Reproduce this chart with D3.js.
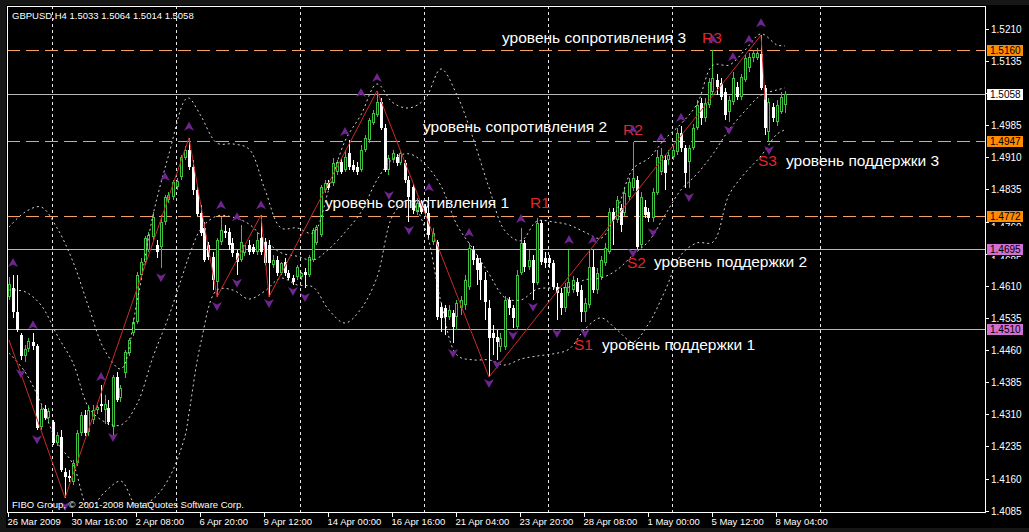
<!DOCTYPE html>
<html><head><meta charset="utf-8">
<script src="https://cdn.jsdelivr.net/npm/d3@7"></script>
<style>html,body{margin:0;padding:0;background:#000;}svg{display:block;}</style>
</head><body>
<svg id="c" width="1029" height="532"></svg>
<script>
const symbolTitle = "GBPUSD,H4  1.5033 1.5064 1.5014 1.5058";
const copyrightText = "FIBO Group, © 2001-2008 MetaQuotes Software Corp.";

const opens = [
1.4584,1.4605,1.4549,1.4495,1.4446,1.4462,1.4479,1.4469,1.4280,1.4323,
1.4301,1.4292,1.4243,1.4257,1.4175,1.4166,1.4152,1.4197,1.4266,1.4308,
1.4269,1.4297,1.4320,1.4334,1.4320,1.4325,1.4280,1.4397,1.4348,1.4406,
1.4453,1.4500,1.4526,1.4635,1.4666,1.4694,1.4724,1.4705,1.4700,1.4759,
1.4810,1.4817,1.4841,1.4864,1.4908,1.4927,1.4887,1.4834,1.4780,1.4745,
1.4705,1.4677,1.4619,1.4712,1.4738,1.4735,1.4710,1.4687,1.4670,1.4687,
1.4705,1.4700,1.4689,1.4721,1.4712,1.4705,1.4659,1.4670,1.4640,1.4666,
1.4640,1.4628,1.4630,1.4630,1.4642,1.4635,1.4670,1.4710,1.4728,1.4834,
1.4850,1.4850,1.4876,1.4899,1.4880,1.4920,1.4892,1.4887,1.4880,1.4927,
1.4950,1.4990,1.5009,1.5039,1.4978,1.4880,1.4904,1.4911,1.4897,1.4897,
1.4857,1.4841,1.4782,1.4803,1.4794,1.4780,1.4712,1.4712,1.4561,1.4558,
1.4537,1.4546,1.4537,1.4558,1.4565,1.4607,1.4694,1.4675,1.4663,1.4624,
1.4558,1.4500,1.4490,1.4467,1.4467,1.4577,1.4558,1.4514,1.4640,1.4710,
1.4654,1.4670,1.4617,1.4757,1.4675,1.4675,1.4663,1.4607,1.4593,1.4558,
1.4593,1.4600,1.4619,1.4600,1.4549,1.4565,1.4654,1.4600,1.4630,1.4663,
1.4689,1.4782,1.4764,1.4791,1.4780,1.4817,1.4839,1.4857,1.4705,1.4794,
1.4782,1.4768,1.4827,1.4876,1.4904,1.4904,1.4911,1.4922,1.4967,1.4932,
1.4899,1.4932,1.4978,1.5037,1.5002,1.5032,1.5062,1.5090,1.5083,1.5062,
1.5016,1.5039,1.5074,1.5051,1.5090,1.5118,1.5142,1.5142,1.5151,1.5072,
1.4969,1.5027,1.4992,1.5016,1.5033];

const highs = [
1.4630,1.4635,1.4635,1.4500,1.4472,1.4488,1.4500,1.4474,1.4332,1.4332,
1.4325,1.4297,1.4269,1.4273,1.4185,1.4180,1.4204,1.4273,1.4315,1.4320,
1.4332,1.4332,1.4332,1.4379,1.4355,1.4343,1.4402,1.4409,1.4379,1.4460,
1.4488,1.4535,1.4642,1.4675,1.4726,1.4735,1.4782,1.4717,1.4775,1.4822,
1.4829,1.4857,1.4862,1.4915,1.4936,1.4955,1.4904,1.4843,1.4798,1.4759,
1.4712,1.4689,1.4721,1.4770,1.4752,1.4745,1.4721,1.4694,1.4752,1.4705,
1.4717,1.4708,1.4735,1.4775,1.4721,1.4717,1.4682,1.4679,1.4666,1.4675,
1.4647,1.4635,1.4659,1.4642,1.4652,1.4682,1.4745,1.4752,1.4846,1.4857,
1.4857,1.4908,1.4904,1.4908,1.4927,1.4950,1.4904,1.4899,1.4939,1.4962,
1.5002,1.5020,1.5065,1.5048,1.4988,1.4915,1.4927,1.4918,1.4927,1.4904,
1.4866,1.4848,1.4815,1.4810,1.4801,1.4817,1.4745,1.4717,1.4570,1.4565,
1.4565,1.4553,1.4577,1.4586,1.4635,1.4710,1.4703,1.4682,1.4675,1.4642,
1.4577,1.4518,1.4507,1.4500,1.4586,1.4584,1.4565,1.4647,1.4745,1.4717,
1.4694,1.4682,1.4768,1.4764,1.4689,1.4682,1.4670,1.4617,1.4605,1.4617,
1.4694,1.4633,1.4628,1.4612,1.4582,1.4694,1.4694,1.4652,1.4679,1.4710,
1.4791,1.4791,1.4820,1.4801,1.4839,1.4862,1.4946,1.4866,1.4829,1.4810,
1.4791,1.4839,1.4927,1.4932,1.4915,1.4927,1.4936,1.4978,1.4983,1.4939,
1.4939,1.4988,1.5044,1.5048,1.5048,1.5095,1.5160,1.5104,1.5095,1.5072,
1.5053,1.5109,1.5086,1.5104,1.5151,1.5153,1.5160,1.5165,1.5195,1.5079,
1.5048,1.5037,1.5044,1.5062,1.5064];

const lows = [
1.4577,1.4535,1.4502,1.4437,1.4432,1.4455,1.4460,1.4273,1.4273,1.4297,
1.4292,1.4238,1.4236,1.4175,1.4115,1.4152,1.4145,1.4189,1.4259,1.4259,
1.4259,1.4287,1.4311,1.4315,1.4287,1.4285,1.4250,1.4339,1.4339,1.4395,
1.4446,1.4493,1.4521,1.4628,1.4659,1.4689,1.4717,1.4675,1.4652,1.4752,
1.4803,1.4810,1.4834,1.4857,1.4904,1.4880,1.4822,1.4773,1.4726,1.4666,
1.4670,1.4600,1.4584,1.4705,1.4721,1.4694,1.4677,1.4635,1.4666,1.4679,
1.4682,1.4684,1.4682,1.4682,1.4659,1.4584,1.4652,1.4633,1.4635,1.4633,
1.4624,1.4612,1.4624,1.4624,1.4605,1.4630,1.4666,1.4705,1.4724,1.4827,
1.4834,1.4843,1.4869,1.4871,1.4876,1.4880,1.4876,1.4869,1.4876,1.4922,
1.4943,1.4985,1.5004,1.4974,1.4876,1.4869,1.4897,1.4890,1.4892,1.4850,
1.4759,1.4777,1.4775,1.4777,1.4773,1.4721,1.4705,1.4530,1.4502,1.4495,
1.4530,1.4476,1.4507,1.4542,1.4553,1.4600,1.4659,1.4612,1.4577,1.4530,
1.4397,1.4448,1.4437,1.4455,1.4460,1.4542,1.4511,1.4507,1.4635,1.4642,
1.4647,1.4577,1.4612,1.4659,1.4652,1.4652,1.4600,1.4530,1.4542,1.4549,
1.4586,1.4593,1.4586,1.4526,1.4526,1.4558,1.4593,1.4591,1.4624,1.4656,
1.4684,1.4705,1.4757,1.4735,1.4773,1.4810,1.4832,1.4694,1.4698,1.4768,
1.4759,1.4759,1.4822,1.4869,1.4834,1.4892,1.4904,1.4915,1.4922,1.4839,
1.4839,1.4927,1.4974,1.4985,1.4992,1.5025,1.5055,1.5055,1.5044,1.4997,
1.4992,1.5032,1.5044,1.5044,1.5086,1.5109,1.5132,1.5137,1.5067,1.4962,
1.4946,1.4992,1.4983,1.5011,1.5014];

const closes = [
1.4614,1.4549,1.4507,1.4446,1.4462,1.4481,1.4469,1.4278,1.4323,1.4301,
1.4318,1.4243,1.4262,1.4180,1.4164,1.4161,1.4197,1.4266,1.4308,1.4266,
1.4320,1.4320,1.4327,1.4329,1.4334,1.4292,1.4397,1.4343,1.4371,1.4455,
1.4483,1.4526,1.4635,1.4666,1.4721,1.4728,1.4770,1.4689,1.4759,1.4817,
1.4822,1.4853,1.4855,1.4911,1.4927,1.4887,1.4834,1.4777,1.4733,1.4670,
1.4677,1.4624,1.4717,1.4740,1.4733,1.4705,1.4687,1.4666,1.4712,1.4705,
1.4689,1.4689,1.4717,1.4689,1.4663,1.4663,1.4670,1.4640,1.4663,1.4640,
1.4628,1.4619,1.4654,1.4640,1.4635,1.4677,1.4740,1.4747,1.4841,1.4850,
1.4839,1.4897,1.4899,1.4876,1.4911,1.4887,1.4880,1.4876,1.4927,1.4955,
1.4997,1.5013,1.5039,1.4978,1.4880,1.4908,1.4920,1.4897,1.4920,1.4857,
1.4817,1.4787,1.4803,1.4782,1.4780,1.4728,1.4733,1.4537,1.4535,1.4537,
1.4553,1.4514,1.4570,1.4577,1.4624,1.4698,1.4670,1.4647,1.4624,1.4572,
1.4488,1.4488,1.4479,1.4488,1.4577,1.4558,1.4535,1.4635,1.4710,1.4654,
1.4670,1.4617,1.4757,1.4666,1.4663,1.4663,1.4607,1.4593,1.4558,1.4607,
1.4619,1.4624,1.4596,1.4549,1.4570,1.4654,1.4600,1.4640,1.4670,1.4698,
1.4782,1.4764,1.4810,1.4752,1.4827,1.4853,1.4862,1.4700,1.4817,1.4775,
1.4768,1.4829,1.4911,1.4915,1.4873,1.4915,1.4927,1.4967,1.4932,1.4873,
1.4932,1.4978,1.5032,1.5002,1.5037,1.5086,1.5095,1.5074,1.5051,1.5009,
1.5044,1.5095,1.5051,1.5097,1.5142,1.5144,1.5153,1.5153,1.5072,1.4978,
1.5039,1.5002,1.5032,1.5051,1.5058];

const timeTickBars = [0,16,32,48,64,80,96,112,128,144,160,176,192];
const timeTickLabels = ["26 Mar 2009","30 Mar 16:00","2 Apr 08:00","6 Apr 20:00","9 Apr 12:00","14 Apr 00:00","16 Apr 16:00","21 Apr 04:00","23 Apr 20:00","28 Apr 08:00","1 May 00:00","5 May 12:00","8 May 04:00"];
const gridBars = [10.75,41.75,72.75,103.75,134.75,165.75,202.75];
const priceTicks = [1.5210,1.5135,1.5060,1.4985,1.4910,1.4835,1.4760,1.4685,1.4610,1.4535,1.4460,1.4385,1.4310,1.4235,1.4160,1.4085];

const bandBars = [0,4,8,12,16,20,24,28,32,36,40,44,45,48,52,56,60,64,68,72,76,80,84,88,92,96,100,104,108,112,116,120,124,128,132,136,140,144,148,152,156,160,164,168,172,176,180,184,188,192,194];
const bandUpper = [1.4747,1.4782,1.4794,1.4745,1.4666,1.4558,1.4458,1.4416,1.4572,1.4775,1.4918,1.5044,1.5048,1.5006,1.4943,1.4941,1.4929,1.4834,1.4745,1.4745,1.4733,1.4836,1.4948,1.5009,1.5081,1.5037,1.5025,1.5046,1.5116,1.5055,1.4955,1.4839,1.4738,1.4715,1.4761,1.4759,1.4752,1.4735,1.4721,1.4787,1.4883,1.4908,1.4953,1.4988,1.5034,1.5125,1.5125,1.5160,1.5198,1.5172,1.5170];
const bandMiddle = [1.4600,1.4596,1.4565,1.4495,1.4430,1.4325,1.4292,1.4285,1.4334,1.4444,1.4540,1.4652,1.4679,1.4743,1.4773,1.4770,1.4754,1.4717,1.4687,1.4679,1.4670,1.4696,1.4735,1.4782,1.4857,1.4906,1.4918,1.4894,1.4843,1.4752,1.4696,1.4638,1.4582,1.4577,1.4602,1.4605,1.4607,1.4624,1.4628,1.4647,1.4682,1.4715,1.4775,1.4834,1.4871,1.4918,1.4974,1.5018,1.5055,1.5067,1.5072];
const bandLower = [1.4453,1.4409,1.4336,1.4245,1.4194,1.4091,1.4129,1.4154,1.4096,1.4112,1.4161,1.4259,1.4313,1.4479,1.4600,1.4600,1.4579,1.4598,1.4628,1.4612,1.4607,1.4553,1.4523,1.4556,1.4630,1.4775,1.4810,1.4745,1.4572,1.4448,1.4437,1.4437,1.4425,1.4439,1.4446,1.4451,1.4462,1.4509,1.4535,1.4507,1.4479,1.4523,1.4598,1.4682,1.4710,1.4712,1.4822,1.4873,1.4913,1.4964,1.4974];

const zigzagBars = [0,14,45,52,63,65,92,120,188,189];
const zigzagPrices = [1.4483,1.4115,1.4955,1.4584,1.4775,1.4584,1.5065,1.4397,1.5195,1.5044];

const fractalUpBars = [1,6,23,39,45,53,57,63,84,88,92,105,115,128,140,146,156,163,168,176,181,185,188];
const fractalUpPrices = [1.4663,1.4518,1.4397,1.4864,1.4981,1.4798,1.4770,1.4798,1.4969,1.5060,1.5095,1.4839,1.4733,1.4766,1.4717,1.4717,1.4974,1.4955,1.5002,1.5184,1.5144,1.5184,1.5223];
const fractalDownBars = [3,7,14,26,38,52,57,65,71,74,95,100,111,120,122,126,131,137,144,156,161,170,180,190];
const fractalDownPrices = [1.4406,1.4252,1.4096,1.4257,1.4630,1.4563,1.4617,1.4570,1.4598,1.4584,1.4822,1.4740,1.4453,1.4383,1.4427,1.4495,1.4561,1.4500,1.4500,1.4687,1.4735,1.4817,1.4974,1.4927];

const levelPrices = [1.5160,1.4947,1.4772,1.4695,1.4510];
const levelKinds = ["resistance","resistance","resistance","support","support"];
const bidPrice = 1.5058;

const noteTexts = ["уровень сопротивления 3","R3","уровень сопротивления 2","R2","уровень сопротивления 1","R1","S1","уровень поддержки 1","S2","уровень поддержки 2","S3","уровень поддержки 3"];
const noteKinds = ["text","tag","text","tag","text","tag","tag","text","tag","text","tag","text"];
const noteBars = [123.25,173.25,103.5,153.5,79,130.25,141.25,148.25,154.5,161.25,187.25,194.25];
const notePrices = [1.5177,1.5177,1.4969,1.4962,1.4792,1.4792,1.4460,1.4460,1.4652,1.4654,1.4890,1.4890];

// ---------------- drawing ----------------
const W = 1029, H = 532;
const plot = {left: 7, top: 6, right: 985, bottom: 512};
const FONT = "'Liberation Sans', Arial, sans-serif";
const GREEN = "#3cc23c";

const x = d3.scaleLinear().domain([0, 194]).range([9, 785]);
const y = d3.scaleLinear().domain([1.4085, 1.5210]).range([510.7, 28.7]);

const svg = d3.select("#c");
svg.append("rect").attr("width", W).attr("height", H).attr("fill", "#000");
svg.append("rect").attr("x",0).attr("y",0).attr("width",W).attr("height",5).attr("fill","#161616");
svg.append("rect").attr("x",0).attr("y",0).attr("width",6).attr("height",H).attr("fill","#161616");
svg.append("rect").attr("x",0).attr("y",528).attr("width",W).attr("height",4).attr("fill","#161616");

const defs = svg.append("defs");
defs.append("clipPath").attr("id","clip").append("rect")
  .attr("x", plot.left + 1).attr("y", plot.top + 1)
  .attr("width", plot.right - plot.left - 1).attr("height", plot.bottom - plot.top - 1);
const g = svg.append("g").attr("clip-path", "url(#clip)");

// vertical grid
g.selectAll("line.grid").data(gridBars).join("line").attr("class","grid")
  .attr("x1", d => Math.round(x(d)) + 0.5).attr("x2", d => Math.round(x(d)) + 0.5)
  .attr("y1", plot.top).attr("y2", plot.bottom)
  .attr("stroke", "#e6e6e6").attr("stroke-width", 1).attr("stroke-dasharray", "3,3");

// level lines
const levelStroke = k => k === "resistance" ? "#f2a064" : "#d9a0d9";
g.selectAll("line.level").data(levelPrices).join("line").attr("class","level")
  .attr("x1", plot.left).attr("x2", plot.right)
  .attr("y1", d => Math.round(y(d)) + 0.5).attr("y2", d => Math.round(y(d)) + 0.5)
  .attr("stroke", (d,i) => levelStroke(levelKinds[i])).attr("stroke-width", 1)
  .attr("stroke-dasharray", (d,i) => levelKinds[i] === "resistance" ? "13,6" : null);
g.append("line").attr("x1", plot.left).attr("x2", plot.right)
  .attr("y1", Math.round(y(bidPrice)) + 0.5).attr("y2", Math.round(y(bidPrice)) + 0.5)
  .attr("stroke", "#b8b8b8").attr("stroke-width", 1);

// annotations
g.selectAll("text.note").data(noteTexts).join("text").attr("class","note")
  .attr("x", (d,i) => x(noteBars[i])).attr("y", (d,i) => y(notePrices[i]))
  .attr("font-family", FONT).attr("font-size", "15.5px")
  .attr("fill", (d,i) => noteKinds[i] === "tag" ? "#e3262c" : "#ffffff")
  .text(d => d);

// candles
const cg = g.append("g");
opens.forEach((o, i) => {
  const h = highs[i], l = lows[i], c = closes[i];
  const cx = Math.floor(x(i));
  const up = c >= o;
  const yt = Math.round(y(Math.max(o, c))), yb = Math.round(y(Math.min(o, c)));
  const yh = Math.round(y(h)), yl = Math.round(y(l));
  if (up) {
    cg.append("line").attr("x1", cx + 0.5).attr("x2", cx + 0.5).attr("y1", yh).attr("y2", yt).attr("stroke", GREEN);
    cg.append("line").attr("x1", cx + 0.5).attr("x2", cx + 0.5).attr("y1", yb).attr("y2", yl).attr("stroke", GREEN);
    if (yb - yt <= 2) {
      cg.append("rect").attr("x", cx - 1).attr("y", yt).attr("width", 3).attr("height", Math.max(yb - yt, 1)).attr("fill", GREEN);
    } else {
      cg.append("rect").attr("x", cx - 0.5).attr("y", yt + 0.5).attr("width", 2).attr("height", yb - yt - 1)
        .attr("fill", "#000").attr("stroke", GREEN).attr("stroke-width", 1);
    }
  } else {
    cg.append("line").attr("x1", cx + 0.5).attr("x2", cx + 0.5).attr("y1", yh).attr("y2", yl).attr("stroke", "#ffffff");
    cg.append("rect").attr("x", cx - 1).attr("y", yt).attr("width", 3).attr("height", Math.max(yb - yt, 1)).attr("fill", "#ffffff");
  }
});

// Bollinger-style bands (dotted)
const bandLine = d3.line().x(d => x(d[0])).y(d => y(d[1])).curve(d3.curveCatmullRom.alpha(0.5));
[bandUpper, bandMiddle, bandLower].forEach(arr => {
  g.append("path").datum(bandBars.map((b, i) => [b, arr[i]]))
    .attr("d", bandLine).attr("fill", "none")
    .attr("stroke", "#d4d4d4").attr("stroke-width", 1).attr("stroke-dasharray", "2,3");
});

// zigzag
g.append("path").datum(zigzagBars.map((b, i) => [b, zigzagPrices[i]]))
  .attr("d", d3.line().x(d => x(d[0])).y(d => y(d[1])))
  .attr("fill", "none").attr("stroke", "#cc2a2a").attr("stroke-width", 1);

// fractal arrows
const FR = "#6e2590";
g.selectAll("path.fup").data(fractalUpBars).join("path").attr("class","fup")
  .attr("transform", (d,i) => `translate(${x(d)},${y(fractalUpPrices[i])})`)
  .attr("d", "M0,-5 L5,4 L0,1.5 L-5,4 Z").attr("fill", FR);
g.selectAll("path.fdn").data(fractalDownBars).join("path").attr("class","fdn")
  .attr("transform", (d,i) => `translate(${x(d)},${y(fractalDownPrices[i])})`)
  .attr("d", "M0,5 L5,-4 L0,-1.5 L-5,-4 Z").attr("fill", FR);

// title & copyright
svg.append("text").attr("x", 12).attr("y", 18.5).attr("font-family", FONT).attr("font-size", "9.5px")
  .attr("fill", "#ffffff").text(symbolTitle);
svg.append("text").attr("x", 12).attr("y", 507.5).attr("font-family", FONT).attr("font-size", "9.5px")
  .attr("fill", "#ffffff").text(copyrightText);

// frame
svg.append("rect").attr("x", plot.left + 0.5).attr("y", plot.top + 0.5)
  .attr("width", plot.right - plot.left).attr("height", plot.bottom - plot.top)
  .attr("fill", "none").attr("stroke", "#ffffff").attr("stroke-width", 1);

// price axis; a tick label partly covered by a level box is moved just below the box
// and only a thin sliver of it is shown (as in the original, where the box hides most of it)
const boxFill = k => k === "resistance" ? "#ff8c00" : "#d070d0";
const boxData = levelPrices.map((p, i) => ({p, fill: boxFill(levelKinds[i])})).concat([{p: bidPrice, fill: "#ffffff"}]);
const boxTop = p => Math.round(y(p)) - 5, BOX_H = 11;
const pa = svg.append("g");
priceTicks.forEach((p, k) => {
  const ty = Math.round(y(p)) + 0.5;
  pa.append("line").attr("x1", plot.right + 0.5).attr("x2", plot.right + 4).attr("y1", ty).attr("y2", ty).attr("stroke", "#ffffff");
  const textTop = ty - 5, textBot = ty + 4;
  const cover = boxData.find(b => boxTop(b.p) < textBot && boxTop(b.p) + BOX_H > textTop);
  if (cover) {
    const bt = boxTop(cover.p), bb = bt + BOX_H;
    if (bt <= textTop + 1 && bb >= textBot - 1) return; // fully hidden under the box
    const id = "tclip" + k;
    defs.append("clipPath").attr("id", id).append("rect")
      .attr("x", 988).attr("y", bb).attr("width", 40).attr("height", 4);
    pa.append("text").attr("clip-path", `url(#${id})`).attr("x", 991).attr("y", bb + 9)
      .attr("font-family", FONT).attr("font-size", "10px").attr("fill", "#ffffff").text(d3.format(".4f")(p));
  } else {
    pa.append("text").attr("x", 991).attr("y", ty + 3.5).attr("font-family", FONT).attr("font-size", "10px")
      .attr("fill", "#ffffff").text(d3.format(".4f")(p));
  }
});
boxData.forEach(b => {
  const by = boxTop(b.p);
  pa.append("rect").attr("x", 987).attr("y", by).attr("width", 36).attr("height", BOX_H).attr("fill", b.fill);
  pa.append("text").attr("x", 990).attr("y", by + 9).attr("font-family", FONT).attr("font-size", "10px")
    .attr("fill", "#000").text(d3.format(".4f")(b.p));
});

// time axis
const ta = svg.append("g");
timeTickBars.forEach((b, i) => {
  const tx = Math.round(x(b)) - 1 + 0.5;
  ta.append("line").attr("x1", tx).attr("x2", tx).attr("y1", plot.bottom + 0.5).attr("y2", plot.bottom + 5).attr("stroke", "#ffffff");
  ta.append("text").attr("x", tx - 1).attr("y", 525).attr("font-family", FONT).attr("font-size", "9.5px")
    .attr("fill", "#ffffff").text(timeTickLabels[i]);
});
</script>
</body></html>
